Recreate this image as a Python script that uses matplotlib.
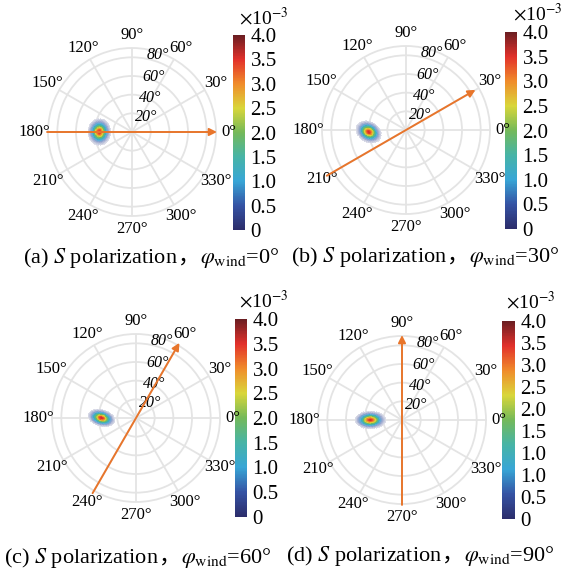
import numpy as np
import matplotlib
matplotlib.use("Agg")
import matplotlib.pyplot as plt
from matplotlib.colors import LinearSegmentedColormap, ListedColormap, Normalize
from matplotlib.cm import ScalarMappable
from matplotlib.offsetbox import TextArea, HPacker, AnchoredOffsetbox

plt.rcParams['font.family'] = ['Liberation Serif', 'Noto Sans CJK SC']
plt.rcParams['mathtext.fontset'] = 'stix'

# panels
panel_tags = ["(a)", "(b)", "(c)", "(d)"]
wind_deg = [0, 30, 60, 90]
# spot centre (polar) and shape
spot_r = [35, 40, 37, 34]
spot_theta = [180, 183, 180, 180]
spot_sx = [4.8, 5.6, 5.8, 6.5]
spot_sy = [5.6, 4.3, 3.5, 3.7]
spot_rot = [0, -30, -15, 0]
spot_peak = [3.6e-3, 3.6e-3, 3.6e-3, 3.6e-3]
# wind arrow radii (tail, head)
arrow_r0 = [91, 98, 93, 91]
arrow_r1 = [91, 86, 93, 91]
# colorbar ticks
cb_ticks = [0, 0.5, 1.0, 1.5, 2.0, 2.5, 3.0, 3.5, 4.0]
cb_labels_d = ["0", "0.5", "1.0", "1.0", "1.5", "2.0", "2.5", "3.0", "3.5", "4.0"]
theta_ticks = np.arange(0, 360, 30)
r_ticks = [20, 40, 60, 80]
r_max = 90

# layout in pixels
W = 568
polar_px = [(132, 132), (406, 130), (136, 418), (402, 420)]
radius_px = 84
rlabel_r = [16, 37, 60, 84]     # where the radial labels sit (data units)
cbar_px = [(233, 35, 12, 195), (505, 32, 12, 197), (235, 319, 12, 198), (502, 321, 13, 198)]
expo_px = [(264, 18), (538, 14), (264, 301), (531, 302)]
cap_px = [(151, 257), (425, 256), (138, 557), (420, 555)]

cmap = LinearSegmentedColormap.from_list("spot", [
    "#2c2d6b", "#3553a4", "#38a6d6", "#47b4a6", "#74b95a",
    "#d9d63a", "#f08c2b", "#e2312b", "#6b1e22"])
# same colours, washed into white at the low end for the spot image
lev = np.linspace(0, 1, 256)
rgba = cmap(lev)
w = (np.clip(lev / 0.3, 0, 1) ** 0.8)[:, None]
rgba[:, :3] = rgba[:, :3] * w + (1 - w)
cmap_img = ListedColormap(rgba)
norm = Normalize(0, 4)
orange = "#e8752b"

th = np.deg2rad(np.linspace(0, 360, 361))
rr = np.linspace(0, r_max, 181)
TH, RR = np.meshgrid(th, rr)
X, Y = RR * np.cos(TH), RR * np.sin(TH)

fig = plt.figure(figsize=(W / 100, W / 100), dpi=100)

for i in range(4):
    bx, by, bw, bh = cbar_px[i]
    cax = fig.add_axes([bx / W, 1 - (by + bh) / W, bw / W, bh / W])

    cx, cy = polar_px[i]
    ax = fig.add_axes([(cx - radius_px) / W, 1 - (cy + radius_px) / W,
                       2 * radius_px / W, 2 * radius_px / W], projection='polar')
    ax.patch.set_alpha(0)
    x0 = spot_r[i] * np.cos(np.deg2rad(spot_theta[i]))
    y0 = spot_r[i] * np.sin(np.deg2rad(spot_theta[i]))
    a = np.deg2rad(spot_rot[i])
    u = (X - x0) * np.cos(a) + (Y - y0) * np.sin(a)
    v = -(X - x0) * np.sin(a) + (Y - y0) * np.cos(a)
    Z = spot_peak[i] * np.exp(-0.5 * ((u / spot_sx[i]) ** 2 + (v / spot_sy[i]) ** 2))
    Z = np.ma.masked_less(Z, 0.12e-3)
    ax.pcolormesh(TH, RR, Z * 1e3, cmap=cmap_img, norm=norm,
                  shading='auto', zorder=2)

    ax.set_ylim(0, r_max)
    ax.set_xticks(np.deg2rad(theta_ticks))
    ax.set_xticklabels([f"{t}°" for t in theta_ticks], fontsize=12)
    ax.tick_params(axis='x', pad=-1)
    ax.set_yticks(r_ticks)
    ax.set_yticklabels([])
    for t, rl in zip(r_ticks, rlabel_r):
        ax.text(np.deg2rad(79), rl, f"{t}°", fontsize=11.5, style='italic',
                ha='left', va='center', zorder=4)
    ax.grid(color="#e4e4e4", lw=1.3)
    ax.spines['polar'].set_color("#e4e4e4")
    ax.spines['polar'].set_linewidth(1.3)
    ax.spines['polar'].set_zorder(1)

    ax.annotate("", xy=(np.deg2rad(wind_deg[i]), arrow_r1[i]),
                xytext=(np.deg2rad(wind_deg[i] + 180), arrow_r0[i]),
                arrowprops=dict(arrowstyle='-|>', color=orange, lw=1.4,
                                mutation_scale=11, shrinkA=0, shrinkB=0),
                annotation_clip=False, zorder=5)

    cb = fig.colorbar(ScalarMappable(norm=norm, cmap=cmap), cax=cax)
    cb.outline.set_visible(False)
    if i == 3:
        cb.set_ticks(np.linspace(0, 4, len(cb_labels_d)))
        cb.set_ticklabels(cb_labels_d)
    else:
        cb.set_ticks(cb_ticks)
        cb.set_ticklabels(["0"] + [f"{t:.1f}" for t in cb_ticks[1:]])
    cax.tick_params(length=0, pad=4, labelsize=15)

    ex, ey = expo_px[i]
    fig.text(ex / W, 1 - ey / W, r"$\times$10$^{-3}$", fontsize=14,
             ha='center', va='center')

    # caption
    p1 = TextArea(panel_tags[i] + " $S$ polarization", textprops=dict(fontsize=16))
    p2 = TextArea("，", textprops=dict(fontsize=16, family='Noto Sans CJK SC'))
    p3 = TextArea(r"$\varphi_{\rm wind}$" + f"={wind_deg[i]}°", textprops=dict(fontsize=16))
    box = HPacker(children=[p1, p2, p3], align='baseline', pad=0, sep=0)
    capx, capy = cap_px[i]
    anc = AnchoredOffsetbox(loc='center', child=box, pad=0, borderpad=0, frameon=False,
                            bbox_to_anchor=(capx / W, 1 - capy / W),
                            bbox_transform=fig.transFigure)
    fig.add_artist(anc)

fig.savefig("out.png", dpi=100)
